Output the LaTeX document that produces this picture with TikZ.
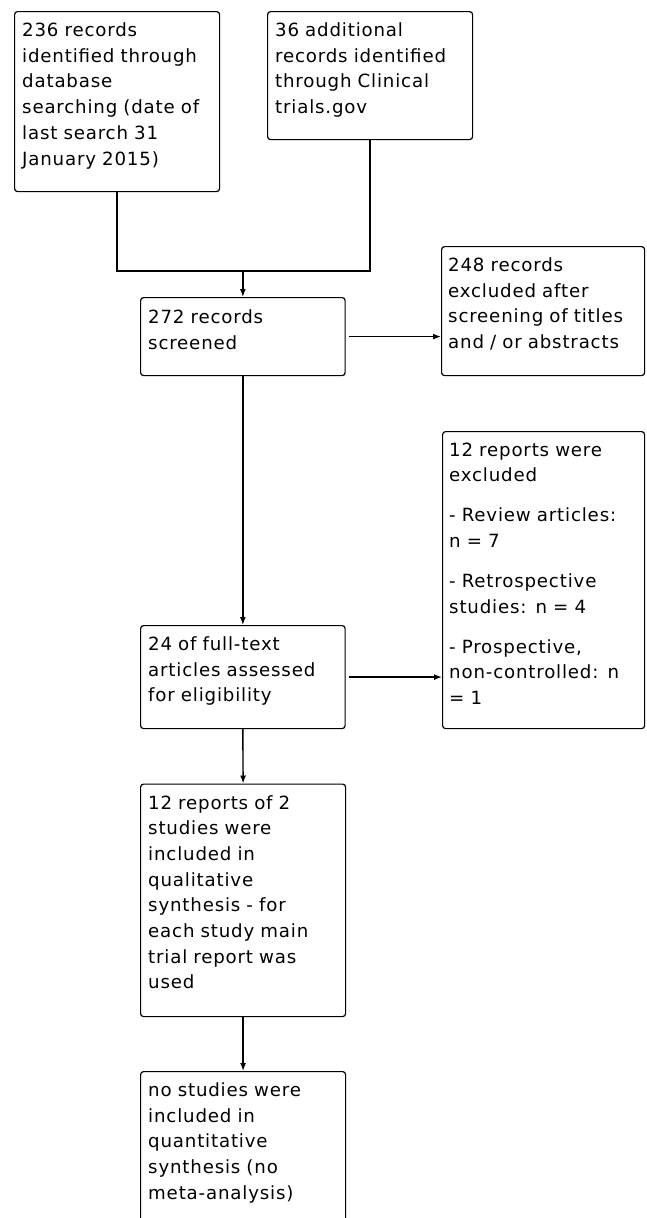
\documentclass[tikz,border=0pt]{standalone}
\usepackage{fontspec}
\setmainfont{DejaVu Sans}[LetterSpace=4.5]
\usetikzlibrary{arrows.meta}
\tikzset{
  boxs/.style={draw=black, line width=1.2pt, rounded corners=3pt, anchor=north west, inner sep=0pt},
  txt/.style={anchor=base west, inner sep=0pt, text width=240pt, align=left,
              font={\fontsize{18.2pt}{25.7pt}\selectfont}, text=black},
  conn/.style={line width=1.4pt, draw=black},
  arr/.style={conn, -{Latex[length=8pt,width=6pt]}}
}
\begin{document}
\begin{tikzpicture}[x=1pt,y=-1pt]
\path[use as bounding box] (0,0) rectangle (646,1218);
\clip (0,0) rectangle (646,1218);
\fill[white] (0,0) rectangle (646,1218);

% boxes
\node[boxs, minimum width=205pt, minimum height=180pt] (b1) at (14,11) {};
\node[boxs, minimum width=205pt, minimum height=128pt] (b2) at (267,11) {};
\node[boxs, minimum width=204.5pt, minimum height=78pt] (b3) at (140,297) {};
\node[boxs, minimum width=203pt, minimum height=129pt] (bA) at (441,246) {};
\node[boxs, minimum width=202pt, minimum height=297pt] (bB) at (442,431) {};
\node[boxs, minimum width=204.5pt, minimum height=103pt] (b4) at (140,625) {};
\node[boxs, minimum width=205pt, minimum height=232.5pt] (b5) at (140,783.5) {};
\node[boxs, minimum width=205pt, minimum height=200pt] (b6) at (140,1071) {};

% texts
\node[txt] (t1) at ([shift={(8,25.5)}]b1.north west) {236 records\\identified through\\database\\searching (date of\\last search 31\\January 2015)};
\node[txt] (t2) at ([shift={(8,25.5)}]b2.north west) {36 additional\\records identified\\through Clinical\\trials.gov};
\node[txt] (t3) at ([shift={(8,26.5)}]b3.north west) {272 records\\screened};
\node[txt] (tA) at ([shift={(7,25.5)}]bA.north west) {248 records\\excluded after\\screening of titles\\and / or abstracts};
\node[txt] (tB) at ([shift={(7,25)}]bB.north west) {12 reports were\\excluded\\[14.3pt]- Review articles:\\n = 7\\[14.3pt]- Retrospective\\studies: n = 4\\[14.3pt]- Prospective,\\non-controlled: n\\= 1};
\node[txt] (t4) at ([shift={(8,25.5)}]b4.north west) {24 of full-text\\articles assessed\\for eligibility};
\node[txt] (t5) at ([shift={(8,25.5)}]b5.north west) {12 reports of 2\\studies were\\included in\\qualitative\\synthesis - for\\each study main\\trial report was\\used};
\node[txt] (t6) at ([shift={(8,25.5)}]b6.north west) {no studies were\\included in\\quantitative\\synthesis (no\\meta-analysis)};

% connectors
\coordinate (j) at (b3.north |- 0,271);
\draw[conn] (b1.south) -- (b1.south |- j) -- (b2.south |- j) -- (b2.south);
\draw[arr] (j) -- (b3.north);
\draw[arr] ([xshift=3pt]b3.east) -- (bA.west |- b3.east);
\draw[arr] (b3.south) -- (b4.north);
\draw[arr] ([xshift=3pt]b4.east) -- (bB.west |- b4.east);
\draw[arr] (b4.south) -- (b5.north);
\draw[arr] (b5.south) -- (b6.north);
\end{tikzpicture}
\end{document}
